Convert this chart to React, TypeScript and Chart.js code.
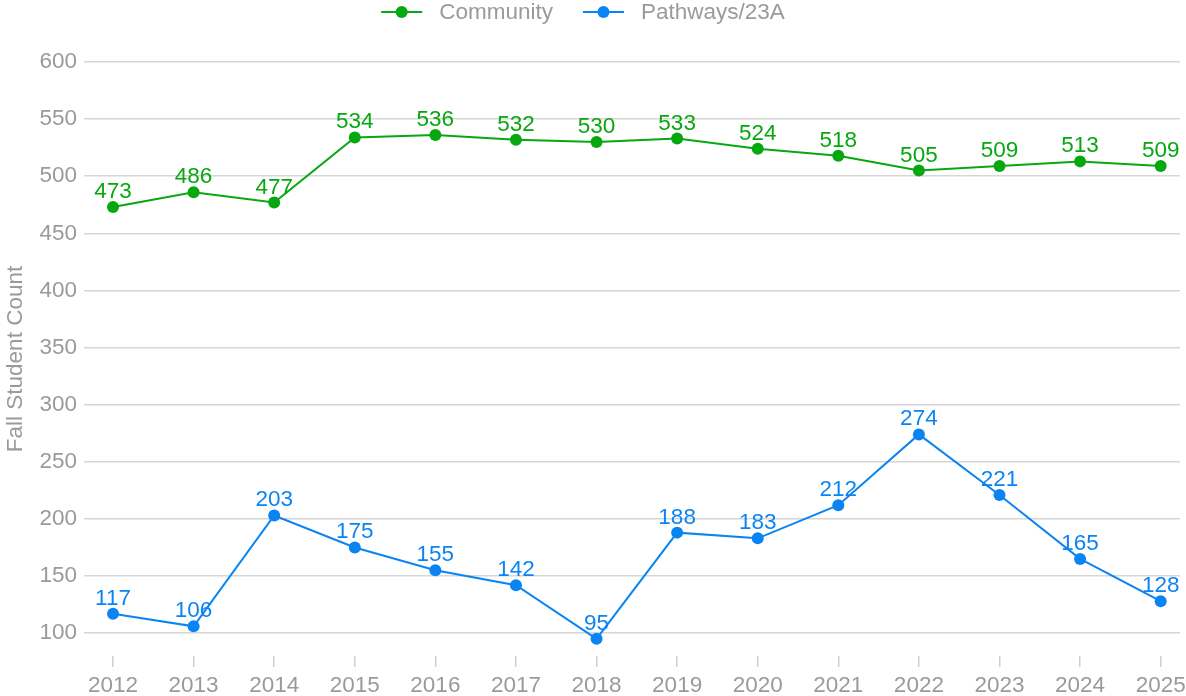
import React, { useEffect, useRef } from "react";
import { Chart, registerables } from "chart.js";

Chart.register(...registerables);

const years = [2012, 2013, 2014, 2015, 2016, 2017, 2018, 2019, 2020, 2021, 2022, 2023, 2024, 2025];
const community = [473, 486, 477, 534, 536, 532, 530, 533, 524, 518, 505, 509, 513, 509];
const pathways = [117, 106, 203, 175, 155, 142, 95, 188, 183, 212, 274, 221, 165, 128];
const yTicks = [100, 150, 200, 250, 300, 350, 400, 450, 500, 550, 600];
const seriesNames = ["Community", "Pathways/23A"];
const seriesColors = ["#07a80f", "#0b84f3"];
const yTitle = "Fall Student Count";

const FONT = "'Liberation Sans', Arial, Helvetica, sans-serif";
const FS = 22.5;
const GREY = "#9a9a9a";

const dataLabelPlugin = {
  id: "dataLabels",
  afterDatasetsDraw(chart: any) {
    const ctx = chart.ctx;
    ctx.save();
    ctx.font = `${FS}px ${FONT}`;
    ctx.textAlign = "center";
    ctx.textBaseline = "alphabetic";
    chart.data.datasets.forEach((ds: any, i: number) => {
      const meta = chart.getDatasetMeta(i);
      ctx.fillStyle = ds.borderColor;
      meta.data.forEach((pt: any, j: number) => {
        ctx.fillText(String(ds.data[j].y), pt.x, pt.y - 9);
      });
    });
    ctx.restore();
  },
};

const legendPlugin = {
  id: "customLegend",
  afterDraw(chart: any) {
    const ctx = chart.ctx;
    ctx.save();
    ctx.font = `${FS}px ${FONT}`;
    ctx.textBaseline = "middle";
    const lineW = 41;
    const gap = 17;
    const itemGap = 30;
    const widths = seriesNames.map((n) => ctx.measureText(n).width);
    const total = widths.reduce((a, w) => a + lineW + gap + w, 0) + itemGap * (seriesNames.length - 1);
    let x = chart.width / 2 - 10 - total / 2;
    const y = 12;
    seriesNames.forEach((name, i) => {
      ctx.strokeStyle = seriesColors[i];
      ctx.lineWidth = 2;
      ctx.beginPath();
      ctx.moveTo(x, y);
      ctx.lineTo(x + lineW, y);
      ctx.stroke();
      ctx.fillStyle = seriesColors[i];
      ctx.beginPath();
      ctx.arc(x + lineW / 2, y, 6, 0, Math.PI * 2);
      ctx.fill();
      ctx.fillStyle = GREY;
      ctx.textAlign = "left";
      ctx.fillText(name, x + lineW + gap, y + 1);
      x += lineW + gap + widths[i] + itemGap;
    });
    ctx.restore();
  },
};

export default function App() {
  const ref = useRef<HTMLCanvasElement | null>(null);

  useEffect(() => {
    document.body.style.margin = "0";
    const canvas = ref.current;
    if (!canvas) return;
    const mk = (vals: number[]) => vals.map((v, i) => ({ x: years[i], y: v }));
    const chart = new Chart(canvas, {
      type: "line",
      data: {
        datasets: [
          {
            label: seriesNames[0],
            data: mk(community),
            borderColor: seriesColors[0],
            backgroundColor: seriesColors[0],
            borderWidth: 2,
            pointRadius: 6,
            pointHoverRadius: 6,
            pointBorderWidth: 0,
            tension: 0,
          },
          {
            label: seriesNames[1],
            data: mk(pathways),
            borderColor: seriesColors[1],
            backgroundColor: seriesColors[1],
            borderWidth: 2,
            pointRadius: 6,
            pointHoverRadius: 6,
            pointBorderWidth: 0,
            tension: 0,
          },
        ],
      },
      options: {
        responsive: false,
        animation: false,
        events: [],
        layout: { padding: { top: 62, right: 6, left: 0, bottom: 0 } },
        plugins: {
          legend: { display: false },
          tooltip: { enabled: false },
        },
        scales: {
          x: {
            type: "linear",
            min: 2011.64,
            max: 2025.24,
            afterBuildTicks: (scale: any) => {
              scale.ticks = years.map((v) => ({ value: v }));
            },
            afterFit: (scale: any) => {
              scale.height = 40;
              scale.paddingLeft = 0;
              scale.paddingRight = 0;
            },
            border: { display: false },
            grid: {
              drawOnChartArea: false,
              drawTicks: true,
              tickLength: 11,
              color: "#cfcfcf",
              lineWidth: 1.5,
            },
            ticks: {
              color: GREY,
              font: { family: FONT, size: FS },
              padding: 5,
              maxRotation: 0,
              autoSkip: false,
              callback: (v: any) => String(v),
            },
          },
          y: {
            min: 80,
            max: 600,
            afterBuildTicks: (scale: any) => {
              scale.ticks = yTicks.map((v) => ({ value: v }));
            },
            afterFit: (scale: any) => {
              scale.width = 84;
            },
            border: { display: false },
            grid: {
              drawTicks: false,
              color: "#d6d6d6",
              lineWidth: 1.5,
            },
            ticks: {
              color: GREY,
              font: { family: FONT, size: FS },
              padding: 7,
            },
            title: {
              display: true,
              text: yTitle,
              color: GREY,
              font: { family: FONT, size: FS },
              padding: { top: 2, bottom: 0 },
            },
          },
        },
      },
      plugins: [dataLabelPlugin, legendPlugin],
    } as any);
    return () => chart.destroy();
  }, []);

  return (
    <div style={{ position: "absolute", left: 0, top: 0, width: 1186, height: 696 }}>
      <canvas ref={ref} width={1186} height={696} style={{ width: 1186, height: 696 }} />
    </div>
  );
}
